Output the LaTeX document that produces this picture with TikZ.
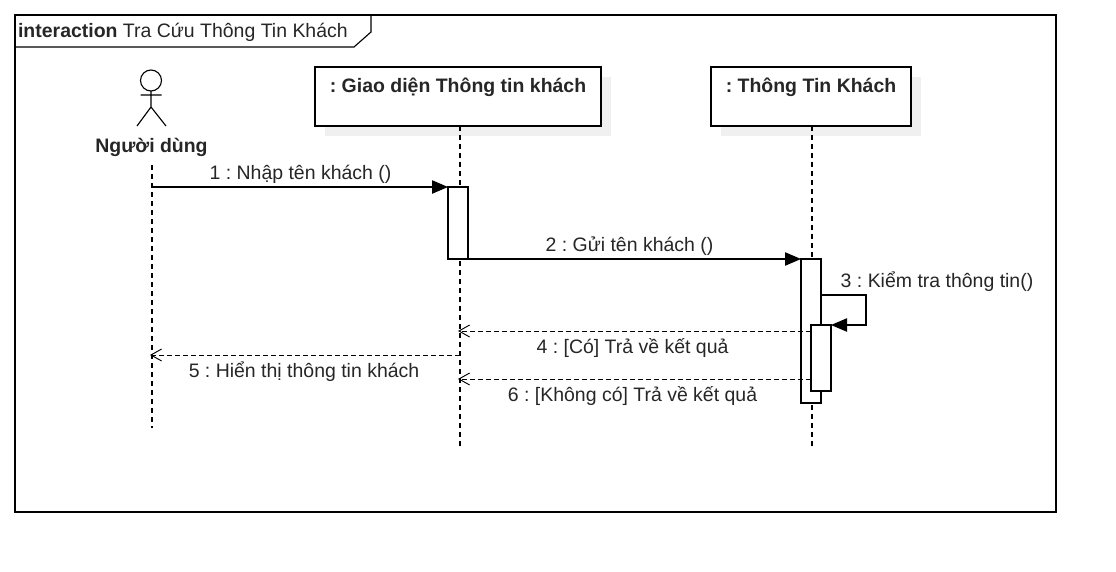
\documentclass[tikz,border=0pt]{standalone}
\usepackage{fontspec}
\setmainfont{Liberation Sans}
\frenchspacing
\usetikzlibrary{arrows.meta,shadows}
\tikzset{every picture/.style={line width=0.85pt}}
\tikzset{
  txt/.style={inner sep=0pt,text=black!85,font=\fontsize{14.6}{16}\selectfont},
  boldtxt/.style={txt,font=\fontsize{14.6}{16}\selectfont\bfseries},
  objbox/.style={draw,fill=white,minimum height=44.25pt,inner sep=0pt,outer sep=0pt,
    general shadow={fill=black!6,draw=none,shadow xshift=7.5pt,shadow yshift=-7.5pt}},
  actbar/.style={draw,fill=white,minimum width=15pt,inner sep=0pt,outer sep=0pt},
  life/.style={dash pattern={on 3.75pt off 3pt},line width=0.85pt},
  msg/.style={-{Triangle[length=12pt,width=10pt]}},
  reply/.style={dash pattern={on 3.5pt off 2.5pt},line width=0.7pt,-{Straight Barb[length=8pt,width=9pt,line width=0.7pt]}}
}
\begin{document}
\begin{tikzpicture}[x=0.75pt,y=0.75pt,yscale=-1,xscale=1]
    \useasboundingbox (0,0) rectangle (1116,571);
    % frame
    \draw (15,15) rectangle (1056,512);
    \draw (15,47) -- (354,47) -- (371,32) -- (371,15);
    \node (title) [txt,anchor=west] at (17.5,32) {\textbf{interaction} Tra Cứu Thông Tin Khách};
    % actor
    \draw (151,80.5) circle [radius=10.5];
    \draw (151,91) -- (151,107) (140.5,95) -- (161.5,95) (137,126) -- (151,107) -- (166,126);
    \node (actor) [boldtxt] at (151.5,147) {Người dùng};
    % objects
    \node (gd) [objbox,minimum width=214.5pt] at (458,96.5) {};
    \node (tt) [objbox,minimum width=150pt] at (811,96.5) {};
    \node (gdtxt) [boldtxt] at (458,87.5) {: Giao diện Thông tin khách};
    \node (tttxt) [boldtxt] at (811,87.5) {: Thông Tin Khách};
    % lifelines
    \coordinate (a0) at (152,165);
    \coordinate (a1) at (152,428);
    \coordinate (g0) at (460,126);
    \coordinate (g1) at (460,447);
    \coordinate (t0) at (812,126);
    \coordinate (t1) at (812,447);
    \draw [life] (a0) -- (a1);
    \draw [life] (g0) -- (g1);
    \draw [life] (t0) -- (t1);
    % activations
    \node (bar1) [actbar,minimum height=54pt] at (458,223) {};
    \node (bar2) [actbar,minimum height=108pt] at (811,331) {};
    \node (bar3) [actbar,minimum height=49.5pt] at (821,358) {};
    % messages
    \coordinate (m1) at (152,187);
    \coordinate (s1) at (821,295);
    \coordinate (s2) at (866,295);
    \coordinate (s3) at (866,325);
    \coordinate (r4a) at (811,331);
    \coordinate (r4b) at (458,331);
    \coordinate (r5a) at (460,355);
    \coordinate (r5b) at (150,355);
    \coordinate (r6a) at (811,379);
    \coordinate (r6b) at (458,379);
    \draw [msg] (m1) -- (bar1.north west);
    \draw [msg] (bar1.south east) -- (bar2.north west);
    \draw [msg] (s1) -- (s2) -- (s3) -- (bar3.north east);
    \draw [reply] (r4a) -- (r4b);
    \draw [reply] (r5a) -- (r5b);
    \draw [reply] (r6a) -- (r6b);
    % labels
    \node (l1) [txt] at (300.5,174) {1 : Nhập tên khách ()};
    \node (l2) [txt] at (629.5,246) {2 : Gửi tên khách ()};
    \node (l3) [txt] at (937,282) {3 : Kiểm tra thông tin()};
    \node (l4) [txt] at (632.5,348) {4 : [Có] Trả về kết quả};
    \node (l5) [txt] at (304,372) {5 : Hiển thị thông tin khách};
    \node (l6) [txt] at (632.5,396) {6 : [Không có] Trả về kết quả};
\end{tikzpicture}
\end{document}
